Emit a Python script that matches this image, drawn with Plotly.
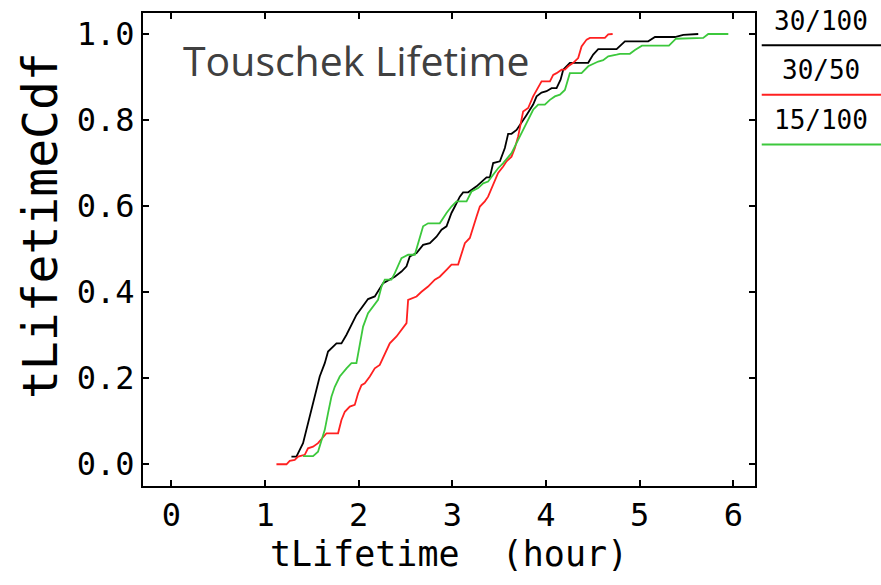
import plotly.graph_objects as go

# ---- data (hours, cumulative fraction) ----
series_names = ["30/100", "30/50", "15/100"]
series_colors = ["#000000", "#ff2020", "#3cc83c"]

t_30_100 = [1.282, 1.335, 1.406, 1.478, 1.531, 1.584, 1.638, 1.673, 1.763, 1.816, 1.870, 1.976,
            2.100, 2.172, 2.261, 2.332, 2.386, 2.457, 2.511, 2.546, 2.618, 2.688, 2.760, 2.831,
            2.885, 2.938, 2.991, 3.027, 3.080, 3.115, 3.169, 3.259, 3.329, 3.365, 3.401, 3.436,
            3.508, 3.561, 3.596, 3.632, 3.686, 3.739, 3.793, 3.863, 3.900, 3.953, 4.006, 4.060,
            4.113, 4.156, 4.184, 4.255, 4.451, 4.504, 4.558, 4.754, 4.843, 5.092, 5.164, 5.377,
            5.466, 5.626]
cdf_30_100 = [0.018, 0.018, 0.049, 0.111, 0.157, 0.204, 0.235, 0.262, 0.281, 0.281, 0.301, 0.347,
              0.384, 0.390, 0.421, 0.429, 0.436, 0.448, 0.460, 0.483, 0.491, 0.510, 0.514, 0.529,
              0.545, 0.553, 0.584, 0.599, 0.622, 0.632, 0.632, 0.646, 0.661, 0.667, 0.667, 0.700,
              0.704, 0.735, 0.768, 0.768, 0.777, 0.793, 0.812, 0.836, 0.855, 0.864, 0.867, 0.874,
              0.874, 0.894, 0.917, 0.933, 0.933, 0.952, 0.965, 0.965, 0.983, 0.983, 0.993, 0.993,
              0.998, 1.000]

t_30_50 = [1.122, 1.229, 1.264, 1.317, 1.353, 1.424, 1.459, 1.513, 1.566, 1.656, 1.780, 1.816,
           1.852, 1.905, 1.958, 1.994, 2.030, 2.065, 2.119, 2.172, 2.225, 2.279, 2.332, 2.404,
           2.457, 2.511, 2.528, 2.618, 2.671, 2.741, 2.813, 2.866, 2.938, 2.991, 3.062, 3.098,
           3.134, 3.187, 3.222, 3.259, 3.294, 3.347, 3.382, 3.419, 3.454, 3.489, 3.543, 3.579,
           3.632, 3.668, 3.703, 3.739, 3.756, 3.810, 3.863, 3.953, 4.042, 4.077, 4.113, 4.167,
           4.202, 4.237, 4.291, 4.344, 4.380, 4.434, 4.469, 4.629, 4.665, 4.712]
cdf_30_50 = [0.000, 0.000, 0.008, 0.010, 0.018, 0.022, 0.037, 0.041, 0.049, 0.072, 0.072, 0.103,
             0.122, 0.134, 0.138, 0.165, 0.184, 0.188, 0.204, 0.223, 0.231, 0.258, 0.281, 0.297,
             0.312, 0.328, 0.382, 0.390, 0.401, 0.413, 0.429, 0.436, 0.452, 0.464, 0.464, 0.491,
             0.514, 0.526, 0.553, 0.576, 0.599, 0.611, 0.622, 0.642, 0.657, 0.677, 0.692, 0.704,
             0.715, 0.735, 0.762, 0.801, 0.820, 0.828, 0.855, 0.890, 0.890, 0.905, 0.909, 0.917,
             0.917, 0.925, 0.933, 0.944, 0.971, 0.987, 0.991, 0.991, 0.999, 1.000]

t_15_100 = [1.406, 1.513, 1.566, 1.603, 1.638, 1.673, 1.709, 1.745, 1.798, 1.870, 1.923, 1.976,
            2.012, 2.047, 2.100, 2.172, 2.207, 2.244, 2.279, 2.350, 2.386, 2.457, 2.528, 2.599,
            2.635, 2.688, 2.741, 2.866, 2.938, 2.991, 3.045, 3.152, 3.205, 3.276, 3.329, 3.382,
            3.436, 3.489, 3.543, 3.596, 3.632, 3.668, 3.721, 3.775, 3.810, 3.863, 3.917, 3.988,
            4.042, 4.095, 4.149, 4.202, 4.255, 4.380, 4.451, 4.487, 4.558, 4.611, 4.665, 4.754,
            4.790, 4.896, 4.950, 5.025, 5.313, 5.388, 5.679, 5.733, 5.947]
cdf_15_100 = [0.019, 0.019, 0.029, 0.057, 0.080, 0.119, 0.157, 0.180, 0.204, 0.223, 0.235, 0.235,
              0.281, 0.320, 0.351, 0.370, 0.382, 0.413, 0.429, 0.429, 0.444, 0.479, 0.487, 0.487,
              0.514, 0.553, 0.560, 0.560, 0.584, 0.599, 0.611, 0.611, 0.634, 0.642, 0.653, 0.657,
              0.673, 0.688, 0.700, 0.715, 0.723, 0.739, 0.762, 0.785, 0.801, 0.824, 0.836, 0.836,
              0.847, 0.855, 0.859, 0.870, 0.909, 0.909, 0.925, 0.929, 0.936, 0.939, 0.948, 0.952,
              0.954, 0.954, 0.963, 0.973, 0.973, 0.989, 0.991, 1.000, 1.000]

x_ticks = [0, 1, 2, 3, 4, 5, 6]
y_ticks = [0.0, 0.2, 0.4, 0.6, 0.8, 1.0]
x_title = "tLifetime  (hour)"
y_title = "tLifetimeCdf"
chart_title = "Touschek Lifetime"

MONO = "DejaVu Sans Mono"

fig = go.Figure()
for name, color, xs, ys in zip(series_names, series_colors,
                               [t_30_100, t_30_50, t_15_100],
                               [cdf_30_100, cdf_30_50, cdf_15_100]):
    fig.add_trace(go.Scatter(x=xs, y=ys, mode="lines", name=name,
                             line=dict(color=color, width=1.8), showlegend=False))

axis_common = dict(showline=True, linecolor="black", linewidth=2, mirror="ticks",
                   ticks="inside", ticklen=6, tickwidth=2, tickcolor="black",
                   showgrid=False, zeroline=False,
                   tickfont=dict(family=MONO, size=32, color="black"))

fig.update_layout(
    width=881, height=585,
    margin=dict(l=143, r=126, t=13, b=99),
    paper_bgcolor="white", plot_bgcolor="white",
    xaxis=dict(range=[-0.303, 6.232], tickvals=x_ticks, ticktext=[str(v) for v in x_ticks],
               title=dict(text=x_title, font=dict(family=MONO, size=35, color="black"), standoff=6),
               ticklabelstandoff=0, **axis_common),
    yaxis=dict(range=[-0.0505, 1.0488], tickvals=y_ticks, ticktext=[f"{v:.1f}" for v in y_ticks],
               ticklabelstandoff=0, **axis_common),
    showlegend=False,
)

# y-axis title (placed as rotated text, centred a little above the plot middle as in the source)
fig.add_annotation(text=y_title, xref="paper", yref="paper", x=-0.168, y=0.55,
                   xanchor="center", yanchor="middle", textangle=-90, showarrow=False,
                   font=dict(family=MONO, size=48, color="black"))

# chart title overlay
fig.add_annotation(text=chart_title, xref="paper", yref="paper", x=0.348, y=0.900,
                   xanchor="center", yanchor="middle", showarrow=False,
                   font=dict(family="Open Sans", size=41, color="#404040"))

# custom legend on the right: label above a line sample
label_y = [0.983, 0.879, 0.774]
line_y = [0.932, 0.827, 0.722]
for name, color, ly, sy in zip(series_names, series_colors, label_y, line_y):
    fig.add_annotation(text=name, xref="paper", yref="paper", x=1.108, y=ly,
                       xanchor="center", yanchor="middle", showarrow=False,
                       font=dict(family=MONO, size=26, color="black"))
    fig.add_shape(type="line", xref="paper", yref="paper", x0=1.011, x1=1.21, y0=sy, y1=sy,
                  line=dict(color=color, width=2))

fig.write_html("out.html")
